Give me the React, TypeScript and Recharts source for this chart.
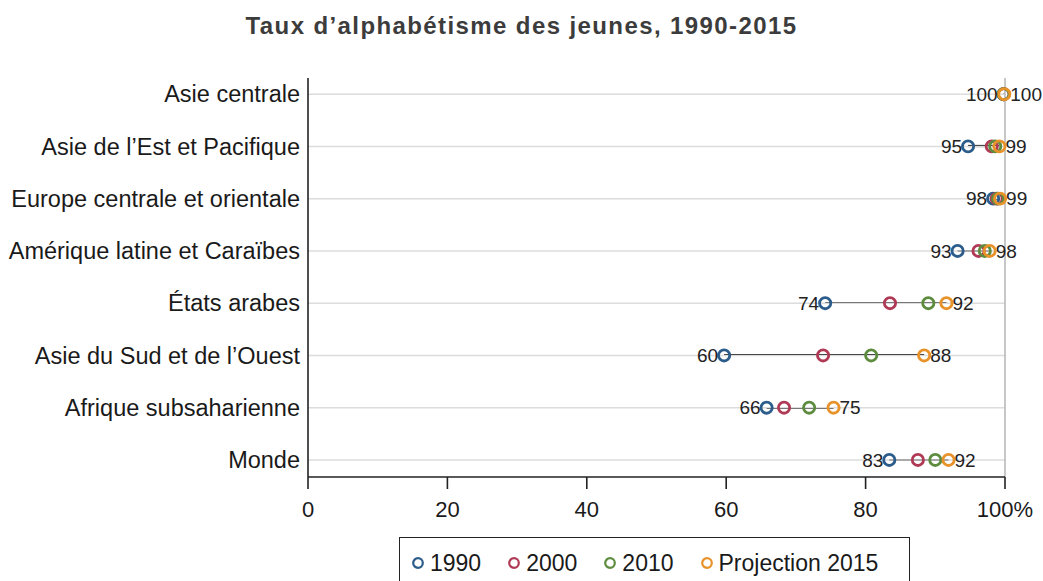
import React from "react"
import {
  ComposedChart,
  Bar,
  Line,
  XAxis,
  YAxis,
  ReferenceLine,
  LabelList,
  Legend,
} from "recharts"

const FONT = "Arial, 'Liberation Sans', Helvetica, sans-serif"

const regions = [
  "Asie centrale",
  "Asie de l’Est et Pacifique",
  "Europe centrale et orientale",
  "Amérique latine et Caraïbes",
  "États arabes",
  "Asie du Sud et de l’Ouest",
  "Afrique subsaharienne",
  "Monde",
]

const v1990 = [99.8, 94.7, 98.3, 93.2, 74.2, 59.7, 65.8, 83.4]
const v2000 = [99.8, 98.1, 98.8, 96.2, 83.5, 73.9, 68.3, 87.5]
const v2010 = [99.8, 98.6, 99.0, 97.1, 89.0, 80.8, 71.9, 90.0]
const v2015 = [99.9, 99.2, 99.3, 97.8, 91.6, 88.4, 75.4, 91.9]

const xTicks = [0, 20, 40, 60, 80, 100]
const xTickLabels = ["0", "20", "40", "60", "80", "100%"]

const series = [
  { key: "v1990", name: "1990", color: "#2b5c8a" },
  { key: "v2000", name: "2000", color: "#b03a55" },
  { key: "v2010", name: "2010", color: "#5e8c3f" },
  { key: "v2015", name: "Projection 2015", color: "#e8922a" },
]

const data = regions.map((region, i) => {
  const vals = [v1990[i], v2000[i], v2010[i], v2015[i]]
  return {
    region,
    v1990: v1990[i],
    v2000: v2000[i],
    v2010: v2010[i],
    v2015: v2015[i],
    span: [Math.min(...vals), Math.max(...vals)],
  }
})

// dark segment joining the first and last year
const Connector = (props: any) => {
  const { x, y, width, height } = props
  const cy = Math.round(y + height / 2)
  return <line x1={x} x2={x + width} y1={cy} y2={cy} stroke="#141414" strokeWidth={2.2} />
}

const LegendBox = () => (
  <div
    style={{
      boxSizing: "border-box",
      border: "1.5px solid #222",
      height: 48,
      display: "flex",
      alignItems: "center",
      paddingLeft: 11,
      paddingTop: 4,
      fontFamily: FONT,
      fontSize: 23,
      color: "#1a1a1a",
      whiteSpace: "nowrap",
    }}
  >
    {series.map((s, i) => (
      <div
        key={s.key}
        style={{ display: "flex", alignItems: "center", marginRight: i === series.length - 1 ? 0 : 26 }}
      >
        <svg width={14} height={14} style={{ marginRight: 5 }}>
          <circle cx={7} cy={7} r={4.8} fill="none" stroke={s.color} strokeWidth={2.2} />
        </svg>
        <span>{s.name}</span>
      </div>
    ))}
  </div>
)

export default function App() {
  return (
    <div
      style={{
        position: "absolute",
        left: 0,
        top: 0,
        width: 1043,
        height: 581,
        background: "#fff",
        fontFamily: FONT,
        overflow: "hidden",
      }}
    >
      <div
        style={{
          position: "absolute",
          top: 14,
          left: 0,
          width: 1043,
          textAlign: "center",
          fontSize: 24,
          lineHeight: "24px",
          fontWeight: "bold",
          letterSpacing: 1.4,
          color: "#3c3c3c",
        }}
      >
        Taux d’alphabétisme des jeunes, 1990-2015
      </div>
      <ComposedChart
        width={1043}
        height={581}
        data={data}
        layout="vertical"
        margin={{ top: 78, right: 38, bottom: 74, left: 0 }}
        style={{ fontFamily: FONT }}
      >
        <XAxis
          type="number"
          domain={[0, 100]}
          ticks={xTicks}
          tickFormatter={(v) => xTickLabels[xTicks.indexOf(v)]}
          height={30}
          tickSize={12}
          tickMargin={12}
          axisLine={{ stroke: "#222", strokeWidth: 1.6 }}
          tickLine={{ stroke: "#222", strokeWidth: 1.6 }}
          tick={{ fontSize: 22, fill: "#1a1a1a" }}
        />
        <YAxis
          type="category"
          dataKey="region"
          width={308}
          interval={0}
          tickSize={0}
          tickMargin={8}
          tickLine={false}
          padding={{ top: -10, bottom: -9 }}
          axisLine={{ stroke: "#222", strokeWidth: 1.6 }}
          tick={{ fontSize: 23.5, fill: "#1a1a1a" }}
        />
        {regions.map((r) => (
          <ReferenceLine key={r} y={r} stroke="#dcdcdc" strokeWidth={1.5} />
        ))}
        <ReferenceLine x={100} stroke="#b5b5b5" strokeWidth={1.5} />
        <Bar
          dataKey="span"
          barSize={4}
          shape={<Connector />}
          isAnimationActive={false}
          legendType="none"
        />
        {series.map((s) => (
          <Line
            key={s.key}
            dataKey={s.key}
            name={s.name}
            stroke="none"
            dot={{ r: 5.6, stroke: s.color, strokeWidth: 2.8, fill: "none" }}
            activeDot={false}
            isAnimationActive={false}
          >
            {s.key === "v1990" && (
              <LabelList
                dataKey="v1990"
                position="left"
                offset={6}
                formatter={(v: any) => Math.round(Number(v))}
                style={{ fontSize: 19, fill: "#222" }}
              />
            )}
            {s.key === "v2015" && (
              <LabelList
                dataKey="v2015"
                position="right"
                offset={6}
                formatter={(v: any) => Math.round(Number(v))}
                style={{ fontSize: 19, fill: "#222" }}
              />
            )}
          </Line>
        ))}
        <Legend
          layout="horizontal"
          verticalAlign="middle"
          align="center"
          content={<LegendBox />}
          wrapperStyle={{ left: 399, top: 537, width: 511, height: 48 }}
        />
      </ComposedChart>
    </div>
  )
}
